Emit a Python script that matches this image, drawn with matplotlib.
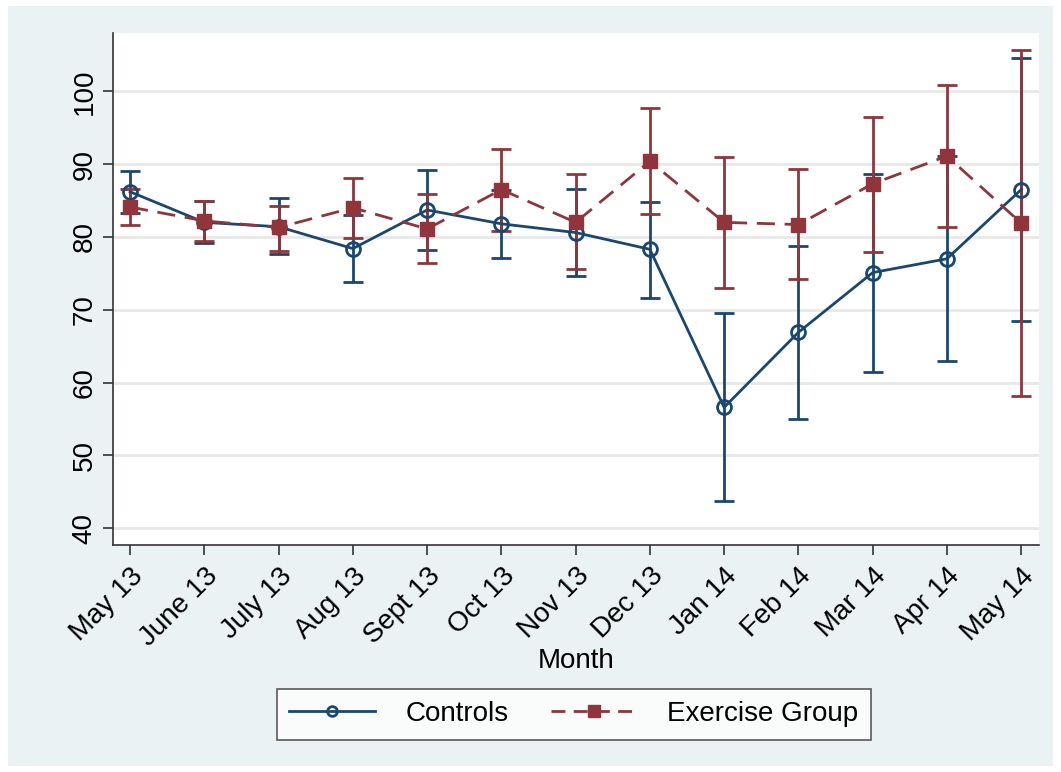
import matplotlib
matplotlib.use('Agg')
import matplotlib.pyplot as plt
from matplotlib.patches import Rectangle

plt.rcParams['font.family'] = ['Liberation Sans', 'DejaVu Sans']

months = ['May 13', 'June 13', 'July 13', 'Aug 13', 'Sept 13', 'Oct 13', 'Nov 13',
          'Dec 13', 'Jan 14', 'Feb 14', 'Mar 14', 'Apr 14', 'May 14']

# controls: mean, lower CI, upper CI
ctrl_mean = [86.2, 82.0, 81.4, 78.4, 83.7, 81.8, 80.6, 78.3, 56.6, 66.9, 75.1, 77.0, 86.5]
ctrl_lo = [83.3, 79.1, 77.6, 73.8, 78.2, 77.1, 74.6, 71.6, 43.7, 55.0, 61.5, 62.9, 68.4]
ctrl_hi = [89.1, 84.9, 85.3, 83.0, 89.2, 86.5, 86.6, 84.8, 69.5, 78.7, 88.6, 91.1, 104.6]

# exercise group
ex_mean = [84.1, 82.2, 81.3, 84.0, 81.1, 86.5, 82.0, 90.4, 82.0, 81.7, 87.3, 91.1, 81.9]
ex_lo = [81.7, 79.5, 78.1, 79.9, 76.4, 80.8, 75.6, 83.1, 73.0, 74.2, 77.9, 81.3, 58.2]
ex_hi = [86.6, 85.0, 84.3, 88.1, 85.9, 92.1, 88.6, 97.7, 91.0, 89.3, 96.5, 100.9, 105.6]

blue = '#1a476f'
red = '#90353b'
bg = '#eaf2f3'
lw = 2.0

x = list(range(len(months)))

fig = plt.figure(figsize=(10.61, 7.72), dpi=100)
fig.patch.set_facecolor('white')
fig.patches.append(Rectangle((8 / 1061, 6 / 772), 1 - 16 / 1061, 1 - 12 / 772,
                             transform=fig.transFigure, facecolor=bg, edgecolor='none', zorder=-10))
ax = fig.add_axes([113 / 1061, 1 - 545 / 772, (1039 - 113) / 1061, (545 - 33) / 772])
ax.set_facecolor('white')

# confidence intervals
ax.errorbar(x, ctrl_mean, yerr=[[m - l for m, l in zip(ctrl_mean, ctrl_lo)],
                                [h - m for m, h in zip(ctrl_mean, ctrl_hi)]],
            fmt='none', ecolor=blue, elinewidth=lw, capsize=7, capthick=lw, zorder=3)
ax.errorbar(x, ex_mean, yerr=[[m - l for m, l in zip(ex_mean, ex_lo)],
                              [h - m for m, h in zip(ex_mean, ex_hi)]],
            fmt='none', ecolor=red, elinewidth=lw, capsize=7, capthick=lw, zorder=3)

ax.plot(x, ctrl_mean, color=blue, lw=lw, marker='o', markersize=10, markerfacecolor='none',
        markeredgecolor=blue, markeredgewidth=lw, zorder=4)
ax.plot(x, ex_mean, color=red, lw=lw, dashes=(6.5, 3.5), marker='s', markersize=10,
        markerfacecolor=red, markeredgecolor=red, zorder=4)

ax.set_xlim(-0.23, 12.24)
ax.set_ylim(37.7, 108)
ax.set_yticks([40, 50, 60, 70, 80, 90, 100])
ax.set_xticks(x)
ax.set_xticklabels(months, rotation=45, ha='right', rotation_mode='anchor')
for lab in ax.get_yticklabels():
    lab.set_rotation(90)
    lab.set_va('center')
ax.tick_params(axis='both', labelsize=20, length=7, width=1.2, color='#333333', pad=6)
ax.tick_params(axis='y', pad=4)
ax.grid(axis='y', color='#e8e8e8', lw=2)
ax.set_axisbelow(True)
for s in ['top', 'right']:
    ax.spines[s].set_visible(False)
for s in ['left', 'bottom']:
    ax.spines[s].set_color('#333333')
    ax.spines[s].set_linewidth(1.2)

ax.set_xlabel('Month', fontsize=20, labelpad=-2)

h1, = ax.plot([], [], color=blue, lw=lw, marker='o', markersize=7, markerfacecolor='none',
              markeredgewidth=lw)
h2, = ax.plot([], [], color=red, lw=lw, dashes=(5, 3), marker='s', markersize=9)
leg = fig.legend([h1, h2], ['Controls', 'Exercise Group'], loc='center',
                 bbox_to_anchor=(574 / 1061, 1 - 714 / 772), ncol=2, fontsize=20,
                 frameon=True, fancybox=False, edgecolor='#333333', handlelength=3.1,
                 handletextpad=1.1, columnspacing=1.5, borderpad=0.45)
leg.get_frame().set_linewidth(1.2)

fig.savefig('out.png', dpi=100, facecolor=fig.get_facecolor())
